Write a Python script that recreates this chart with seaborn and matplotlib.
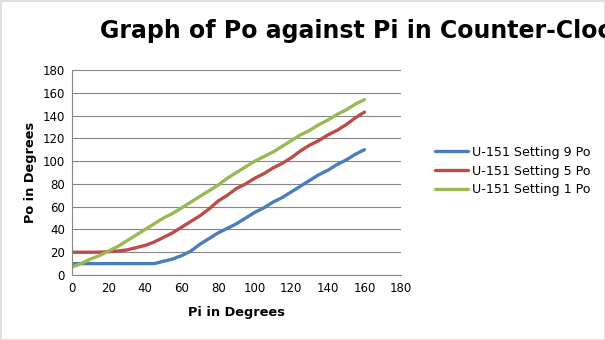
import matplotlib
matplotlib.use("Agg")
import matplotlib.pyplot as plt
import seaborn as sns
import pandas as pd
from matplotlib.patches import Rectangle

pi_deg = [0, 5, 10, 15, 20, 25, 30, 35, 40, 45, 50, 55, 60, 65, 70, 75, 80, 85, 90,
          95, 100, 105, 110, 115, 120, 125, 130, 135, 140, 145, 150, 155, 160]
setting9 = [10, 10, 10, 10, 10, 10, 10, 10, 10, 10, 12, 14, 17, 21, 27, 32, 37, 41, 45,
            50, 55, 59, 64, 68, 73, 78, 83, 88, 92, 97, 101, 106, 110]
setting5 = [20, 20, 20, 20, 20.5, 21, 22, 24, 26, 29, 33, 37, 42, 47, 52, 58, 65, 70, 76,
            80, 85, 89, 94, 98, 103, 109, 114, 118, 123, 127, 132, 138, 143]
setting1 = [7, 10, 14, 17, 21, 25, 30, 35, 40, 45, 50, 54, 59, 64, 69, 74, 79, 85, 90,
            95, 100, 104, 108, 113, 118, 123, 127, 132, 136, 141, 145, 150, 154]
series_names = ["U-151 Setting 9 Po", "U-151 Setting 5 Po", "U-151 Setting 1 Po"]
colors = ["#4A7EBB", "#BE4B48", "#98B954"]
title = "Graph of Po against Pi in Counter-Clockwise Direction"

frames = []
for name, vals in zip(series_names, [setting9, setting5, setting1]):
    frames.append(pd.DataFrame({"Pi": pi_deg, "Po": vals, "series": name}))
df = pd.concat(frames, ignore_index=True)

sns.set_style("white")
plt.rcParams['font.family'] = ['DejaVu Sans']
plt.rcParams['text.color'] = 'black'
plt.rcParams['axes.labelcolor'] = 'black'
plt.rcParams['xtick.color'] = 'black'
plt.rcParams['ytick.color'] = 'black'

fig = plt.figure(figsize=(6.05, 3.4), dpi=100)
ax = fig.add_axes([72/605, 1-275/340, (401-72)/605, (275-70)/340])

sns.lineplot(data=df, x="Pi", y="Po", hue="series", palette=colors,
             hue_order=series_names, linewidth=2.4, ax=ax, legend=True)

ax.set_xlim(0, 180)
ax.set_ylim(0, 180)
ax.set_xticks(range(0, 181, 20))
ax.set_yticks(range(0, 181, 20))
ax.tick_params(axis='both', labelsize=8.5, length=3, width=0.8, color='#868686',
               labelcolor='black', direction='out', pad=2)
ax.yaxis.grid(True, color='#868686', linewidth=0.8)
ax.set_axisbelow(True)
for s in ['top', 'right']:
    ax.spines[s].set_visible(False)
for s in ['left', 'bottom']:
    ax.spines[s].set_color('#868686')
    ax.spines[s].set_linewidth(0.8)

ax.set_xlabel("Pi in Degrees", fontsize=9.3, fontweight='bold', labelpad=8)
ax.set_ylabel("Po in Degrees", fontsize=9.3, fontweight='bold', labelpad=4)

handles, labels = ax.get_legend_handles_labels()
ax.legend(handles, labels, loc='center left', bbox_to_anchor=(424/605, 1-171/340),
          bbox_transform=fig.transFigure, frameon=False, fontsize=9.1,
          handlelength=2.6, handletextpad=0.3, labelspacing=0.45)

# size the title so that "Graph of Po against Pi in " spans 100 -> 440 px as in the reference
renderer = fig.canvas.get_renderer()
probe = fig.text(0, 0, "Graph of Po against Pi in ", fontsize=10, fontweight='bold')
w = probe.get_window_extent(renderer).width
probe.remove()
tsize = 10 * 340 / w
fig.text(100/605, 1-31/340, title, color='black',
         fontsize=tsize, fontweight='bold', ha='left', va='center')

fig.patches.append(Rectangle((0.5/605, 0.5/340), 1-1/605, 1-1/340, transform=fig.transFigure,
                             fill=False, edgecolor='#D9D9D9', linewidth=1.2))

fig.savefig("out.png", dpi=100)
